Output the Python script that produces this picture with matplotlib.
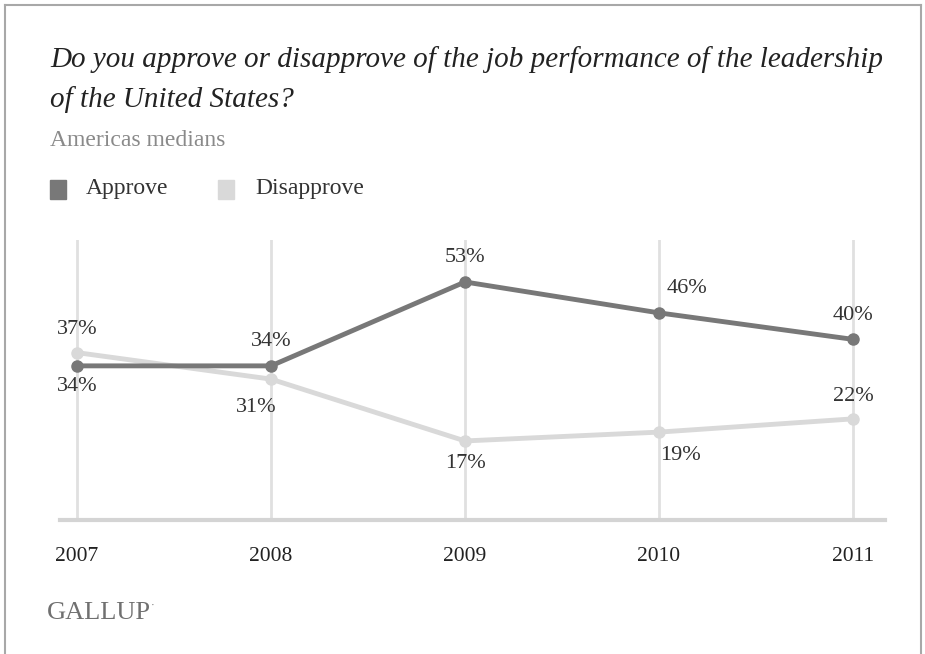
import matplotlib
matplotlib.use("Agg")
import matplotlib.pyplot as plt
from matplotlib.lines import Line2D
from matplotlib.patches import Rectangle

years = [2007, 2008, 2009, 2010, 2011]
approve = [34, 34, 53, 46, 40]
disapprove = [37, 31, 17, 19, 22]
year_labels = ["2007", "2008", "2009", "2010", "2011"]

title_lines = ["Do you approve or disapprove of the job performance of the leadership",
               "of the United States?"]
subtitle = "Americas medians"

W, H = 925, 654
fig = plt.figure(figsize=(W / 100, H / 100), dpi=100)
plt.rcParams['font.family'] = ['Liberation Serif', 'DejaVu Serif']

def px(x, y):
    return x / W, 1 - y / H

# border
for xs, ys in [((5, 5), (5, 654)), ((5, 921), (5, 5)), ((921, 921), (5, 654))]:
    fig.add_artist(Line2D([x / W for x in xs], [1 - y / H for y in ys], color="#a8a8a8", lw=1.5))

# axes: x 60..885 px, y 240..520 px
ax = fig.add_axes([60 / W, 1 - 520 / H, (885 - 60) / W, (520 - 240) / H])
ax.set_xlim(2007 - 17 / 194, 2011 + 32 / 194)
ax.set_ylim(-0.9, 62.5)
for s in ax.spines.values():
    s.set_visible(False)
ax.set_xticks([])
ax.set_yticks([])
ax.axhline(-0.9, color="#d4d4d4", lw=3, clip_on=False, zorder=1)
for yv in years:
    ax.axvline(yv, color="#e0e0e0", lw=2, zorder=0)

dark = "#787878"
light = "#d9d9d9"
ax.plot(years, disapprove, color=light, lw=3.5, marker="o", ms=8, zorder=2)
ax.plot(years, approve, color=dark, lw=3.5, marker="o", ms=8, zorder=3)

fs = 16
tc = "#333333"
a_off = [(0, -21), (0, 24), (0, 24), (28, 24), (0, 24)]
d_off = [(0, 23), (-15, -28), (0, -23), (21, -23), (0, 22)]
for x, v, (dx, dy) in zip(years, approve, a_off):
    ax.annotate(f"{v}%", (x, v), xytext=(dx * 0.72, dy * 0.72), textcoords="offset points",
                ha="center", va="center", fontsize=fs, color=tc, zorder=5)
for x, v, (dx, dy) in zip(years, disapprove, d_off):
    ax.annotate(f"{v}%", (x, v), xytext=(dx * 0.72, dy * 0.72), textcoords="offset points",
                ha="center", va="center", fontsize=fs, color=tc, zorder=5)

for x, lab in zip(years, year_labels):
    ax.annotate(lab, (x, -0.9), xytext=(0, -26), textcoords="offset points",
                ha="center", va="center", fontsize=15.5, color="#222222")

# title
fig.text(*px(50, 60), title_lines[0], fontsize=21, style="italic", color="#222222",
         ha="left", va="center")
fig.text(*px(50, 100), title_lines[1], fontsize=21, style="italic", color="#222222",
         ha="left", va="center")
fig.text(*px(50, 141), subtitle, fontsize=17, color="#8a8a8a", ha="left", va="center")

# legend
fig.add_artist(Rectangle(px(50, 199), 16 / W, 19 / H, color=dark, transform=fig.transFigure))
fig.text(*px(86, 189), "Approve", fontsize=17, color="#333333", ha="left", va="center")
fig.add_artist(Rectangle(px(218, 199), 16 / W, 19 / H, color=light, transform=fig.transFigure))
fig.text(*px(255, 189), "Disapprove", fontsize=17, color="#333333", ha="left", va="center")

fig.text(*px(47, 613), "GALLUP", fontsize=19, color="#707070", ha="left", va="center")
fig.text(*px(151, 605), "·", fontsize=8, color="#777777", ha="left", va="center")

fig.savefig("out.png", dpi=100, facecolor="white")
